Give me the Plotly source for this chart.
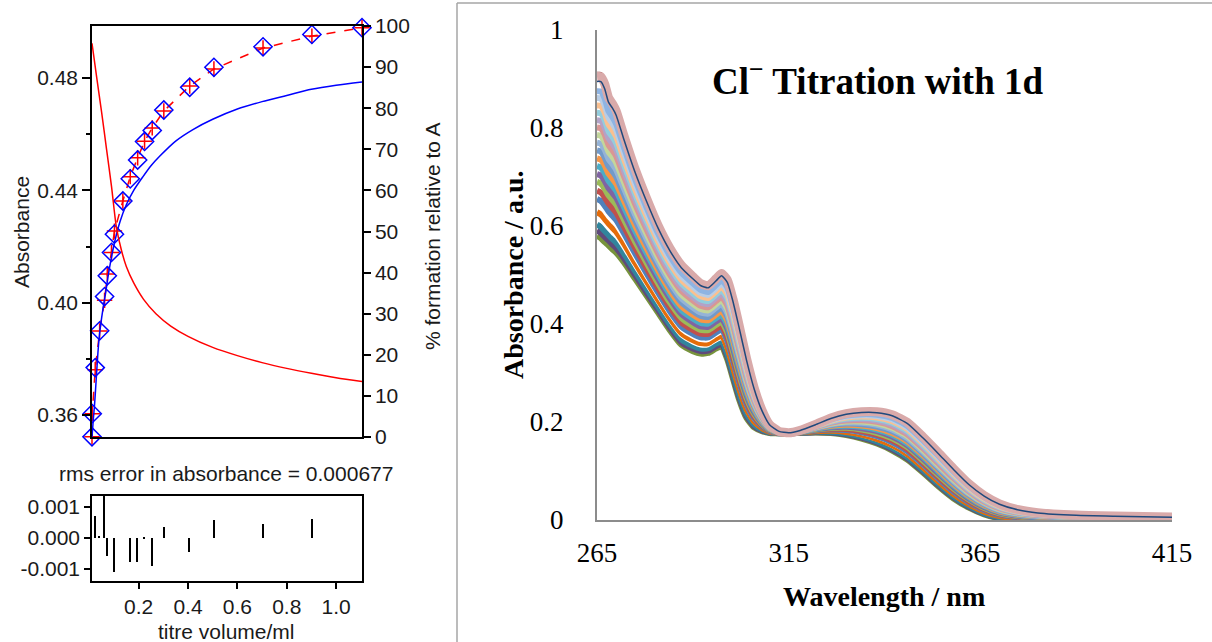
import numpy as np
import plotly.graph_objects as go

# ---------------- Left panel data (titration fit) ----------------
titre_ml = [0.011, 0.012, 0.024, 0.042, 0.062, 0.073, 0.090, 0.102, 0.136, 0.166,
            0.196, 0.224, 0.255, 0.302, 0.407, 0.505, 0.704, 0.902, 1.105]
abs_observed = [0.3523, 0.3605, 0.3769, 0.3900, 0.4022, 0.4096, 0.4179, 0.4244, 0.4362, 0.4441,
                0.4508, 0.4574, 0.4613, 0.4686, 0.4767, 0.4838, 0.4911, 0.4955, 0.4979]
abs_residual = [0.0, 0.0, 0.00072, 0.00003, 0.00135, -0.0006, 0.0, -0.0011, 0.0, -0.00078,
                -0.00078, -0.00005, -0.00092, 0.00036, -0.00044, 0.00058, 0.00045, 0.0006, 0.0]

complex_vol = [0.011, 0.016, 0.0215, 0.028, 0.035, 0.042, 0.055, 0.066, 0.08, 0.103, 0.125,
               0.15, 0.18, 0.217, 0.25, 0.285, 0.35, 0.42, 0.5, 0.6, 0.7, 0.8, 0.9, 1.0, 1.105]
complex_pct = [0, 4, 8, 14, 20.5, 25.3, 31, 35, 40.5, 47.5, 52.5,
               56.5, 60, 63.3, 66, 68.3, 72, 74.8, 77.3, 79.8, 81.6, 83.1, 84.6, 85.6, 86.4]
free_vol = [0.011, 0.03, 0.05, 0.07, 0.09, 0.11, 0.13, 0.15, 0.18, 0.22,
            0.27, 0.33, 0.40, 0.50, 0.60, 0.70, 0.80, 0.90, 1.00, 1.105]
free_pct = [95.8, 87.5, 79, 70, 61, 51, 45.5, 41.5, 37.5, 33.5,
            30, 27, 24.5, 21.8, 19.8, 18.1, 16.7, 15.5, 14.4, 13.5]

abs_ticks = [0.36, 0.40, 0.44, 0.48]
abs_minor = [0.38, 0.42, 0.46]
pct_ticks = list(range(0, 101, 10))
resid_ticks = [-0.001, 0.0, 0.001]
resid_ticktext = ["-0.001", "0.000", "0.001"]
titre_ticks = [0.2, 0.4, 0.6, 0.8, 1.0]

# ---------------- Right panel data (UV-vis spectra) ----------------
wavelength = [265, 266, 267, 268, 269, 270, 272, 275, 278, 281, 284, 287, 290, 292, 294, 296,
              297.5, 299, 300.5, 302, 304, 306, 308, 310, 312.5, 315, 318, 322, 326, 330, 334,
              338, 342, 346, 350, 354, 358, 362, 366, 370, 375, 380, 390, 400, 415]
spectrum_final = [0.905, 0.905, 0.89, 0.862, 0.85, 0.835, 0.785, 0.715, 0.655, 0.6, 0.555, 0.52,
                  0.497, 0.483, 0.478, 0.492, 0.503, 0.49, 0.45, 0.40, 0.33, 0.27, 0.225, 0.195,
                  0.181, 0.178, 0.183, 0.195, 0.208, 0.217, 0.221, 0.221, 0.215, 0.199, 0.17,
                  0.138, 0.105, 0.074, 0.05, 0.033, 0.021, 0.015, 0.01, 0.008, 0.006]
spectrum_initial = [0.585, 0.58, 0.572, 0.565, 0.557, 0.55, 0.53, 0.495, 0.46, 0.425, 0.39, 0.36,
                    0.347, 0.342, 0.343, 0.352, 0.356, 0.33, 0.29, 0.25, 0.21, 0.19, 0.182, 0.178,
                    0.177, 0.177, 0.178, 0.179, 0.178, 0.174, 0.167, 0.157, 0.143, 0.124, 0.098,
                    0.07, 0.045, 0.026, 0.012, 0.004, 0.001, 0.0, 0.0, 0.0, 0.0]
# absorbance of each plotted spectrum at 265 nm (bottom -> top)
level_265 = [0.580, 0.591, 0.603, 0.615, 0.628, 0.640, 0.655, 0.672, 0.690, 0.706, 0.722,
             0.738, 0.754, 0.770, 0.786, 0.801, 0.816, 0.831, 0.846, 0.861, 0.875,
             0.912, 0.905, 0.895]
series_colors = ["#77933C", "#604A7B", "#31859C", "#FFFFFF", "#E46C0A", "#FFFFFF", "#4F81BD",
                 "#C0504D", "#9BBB59", "#8064A2", "#4BACC6", "#F79646", "#729ACA", "#95B3D7",
                 "#C3D69B", "#D99694", "#B3A2C7", "#93CDDD", "#FAC090", "#B9CDE5", "#8EB4E3",
                 "#953735", "#D9AAAA", "#1F497D"]
series_widths = [6, 6, 6, 3, 6, 3, 6, 6, 6, 6, 6, 6, 6, 6, 6, 6, 6, 6, 6, 6, 6, 2.5, 9, 1.5]
spec_xticks = [265, 315, 365, 415]
spec_yticks = [0, 0.2, 0.4, 0.6, 0.8, 1]
spec_yticktext = ["0", "0.2", "0.4", "0.6", "0.8", "1"]

# ---------------- figure ----------------
W, H = 1212, 642
def px(x):
    return x / W
def py(y):
    return 1 - y / H

SANS = "Liberation Sans"
SERIF = "Liberation Serif"
TXT = "#1a1a1a"

fig = go.Figure()

# % formation curves (right axis of left panel)
fig.add_trace(go.Scatter(x=complex_vol, y=complex_pct, mode="lines", line=dict(color="blue", width=1.5, shape="spline", smoothing=0.8),
                         xaxis="x", yaxis="y2", showlegend=False, hoverinfo="skip"))
fig.add_trace(go.Scatter(x=free_vol, y=free_pct, mode="lines", line=dict(color="red", width=1.5, shape="spline", smoothing=0.8),
                         xaxis="x", yaxis="y2", showlegend=False, hoverinfo="skip"))
# calculated absorbance (red dashed + crosses), observed (blue open diamonds)
abs_calc = (np.array(abs_observed) - np.array(abs_residual)).tolist()
fig.add_trace(go.Scatter(x=titre_ml, y=abs_calc, mode="lines+markers",
                         line=dict(color="red", width=1.5, dash="dash"),
                         marker=dict(symbol="cross-thin", size=11, line=dict(color="red", width=1.5)),
                         xaxis="x", yaxis="y", showlegend=False, cliponaxis=False))
fig.add_trace(go.Scatter(x=titre_ml, y=abs_observed, mode="markers",
                         marker=dict(symbol="diamond-open", size=14, color="blue", line=dict(color="blue", width=1.5)),
                         xaxis="x", yaxis="y", showlegend=False, cliponaxis=False))

# residuals
fig.add_trace(go.Bar(x=titre_ml, y=abs_residual, width=0.006, marker=dict(color="black", line=dict(width=0)),
                     xaxis="x2", yaxis="y3", showlegend=False))

# spectra: two-component mixture of initial / final spectra
ini = np.array(spectrum_initial)
fin = np.array(spectrum_final)
for lvl, col, wd in zip(level_265, series_colors, series_widths):
    t = (lvl - spectrum_initial[0]) / (spectrum_final[0] - spectrum_initial[0])
    spec = ini + t * (fin - ini)
    fig.add_trace(go.Scatter(x=wavelength, y=spec, mode="lines",
                             line=dict(color=col, width=wd, shape="spline", smoothing=0.5),
                             xaxis="x3", yaxis="y4", showlegend=False, hoverinfo="skip"))


def note(text, x, y, family=SANS, size=21, color=TXT, angle=0):
    return dict(text=text, x=px(x), y=py(y), xref="paper", yref="paper", showarrow=False,
                xanchor="center", yanchor="middle", textangle=angle,
                font=dict(family=family, size=size, color=color))


main_dom_x = [px(92), px(362)]
fig.update_layout(
    width=W, height=H, margin=dict(l=0, r=0, t=0, b=0, autoexpand=False),
    paper_bgcolor="white", plot_bgcolor="white",
    font=dict(family=SANS, size=21, color=TXT),
    bargap=0,
    xaxis=dict(domain=main_dom_x, range=[0.011, 1.105], anchor="y", showticklabels=False, ticks="",
               showline=True, mirror=True, linecolor="black", linewidth=1.5, showgrid=False, zeroline=False,
               automargin=False),
    yaxis=dict(domain=[py(437), py(26)], range=[0.3522, 0.4985], anchor="x", tickvals=abs_ticks,
               tickformat=".2f", ticks="outside", ticklen=8, tickwidth=1.5, tickcolor="black",
               minor=dict(tickvals=abs_minor, ticks="outside", ticklen=4, tickwidth=1.5, tickcolor="black"),
               showline=True, mirror=True, linecolor="black", linewidth=1.5, showgrid=False, zeroline=False,
               tickfont=dict(size=21, color=TXT), automargin=False),
    yaxis2=dict(overlaying="y", side="right", anchor="x", range=[0, 100], tickvals=pct_ticks,
                ticks="outside", ticklen=7, tickwidth=1.5, tickcolor="black", showgrid=False, zeroline=False,
                showline=True, linecolor="black", linewidth=1.5, tickfont=dict(size=21, color=TXT),
                ticklabelstandoff=0, automargin=False),
    xaxis2=dict(domain=main_dom_x, range=[0.011, 1.105], anchor="y3", tickvals=titre_ticks, tickformat=".1f",
                ticks="outside", ticklen=6, tickwidth=1.5, tickcolor="black", ticklabelstandoff=0,
                showline=True, mirror=True, linecolor="black", linewidth=1.5, showgrid=False, zeroline=False,
                tickfont=dict(size=21, color=TXT), automargin=False),
    yaxis3=dict(domain=[py(581), py(496)], range=[-0.00139, 0.00135], anchor="x2", tickvals=resid_ticks,
                ticktext=resid_ticktext, ticks="outside", ticklen=6, tickwidth=1.5, tickcolor="black",
                showline=True, mirror=True, linecolor="black", linewidth=1.5, showgrid=False, zeroline=False,
                tickfont=dict(size=21, color=TXT), automargin=False),
    xaxis3=dict(domain=[px(597), px(1172)], range=[265, 415], anchor="y4", tickvals=spec_xticks,
                ticks="", showline=True, linecolor="#8C8C8C", linewidth=2, showgrid=False, zeroline=False,
                tickfont=dict(family=SERIF, size=27, color="black"), ticklabelstandoff=8, automargin=False),
    yaxis4=dict(domain=[py(520), py(30)], range=[0, 1], anchor="x3", tickvals=spec_yticks, ticktext=spec_yticktext,
                ticks="", showline=True, linecolor="#8C8C8C", linewidth=2, showgrid=False, zeroline=False,
                tickfont=dict(family=SERIF, size=27, color="black"), ticklabelstandoff=26, automargin=False),
    shapes=[
        dict(type="line", xref="paper", yref="paper", x0=px(457), x1=1.0, y0=py(3), y1=py(3),
             line=dict(color="#A6A6A6", width=1.5)),
        dict(type="line", xref="paper", yref="paper", x0=px(457), x1=px(457), y0=0, y1=py(3),
             line=dict(color="#A6A6A6", width=1.5)),
    ],
    annotations=[
        note("Absorbance", 21, 232, angle=-90),
        note("% formation relative to A", 432, 236, angle=-90),
        note("rms error in absorbance = 0.000677", 226, 473),
        note("titre volume/ml", 226, 631),
        note("<b>Cl<sup>−</sup> Titration with 1d</b>", 877, 78, family=SERIF, size=37, color="black"),
        note("<b>Wavelength / nm</b>", 884, 596, family=SERIF, size=28, color="black"),
        note("<b>Absorbance / a.u.</b>", 513, 275, family=SERIF, size=28, color="black", angle=-90),
    ],
)

fig.write_html("out.html")
